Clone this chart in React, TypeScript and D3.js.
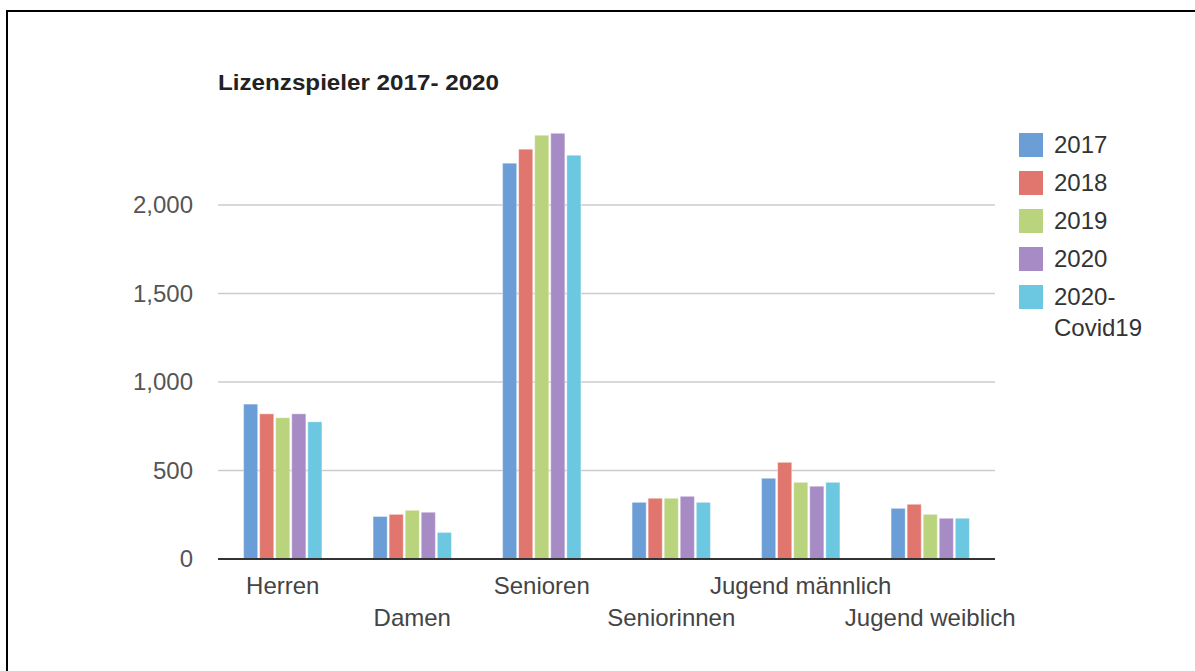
import React from 'react';
import { scaleBand, scaleLinear, format } from 'd3';

const CATEGORIES = ['Herren', 'Damen', 'Senioren', 'Seniorinnen', 'Jugend männlich', 'Jugend weiblich'];
const SERIES = ['2017', '2018', '2019', '2020', '2020-Covid19'];
const LEGEND_LINES = [['2017'], ['2018'], ['2019'], ['2020'], ['2020-', 'Covid19']];
const COLORS = ['#6b9ed6', '#e0766e', '#b9d47c', '#a78bc4', '#6cc7e0'];

// values per series, in category order
const V2017 = [875, 240, 2236, 320, 456, 286];
const V2018 = [820, 252, 2315, 343, 546, 309];
const V2019 = [798, 275, 2394, 343, 433, 252];
const V2020 = [820, 264, 2405, 354, 411, 230];
const VCOVID = [775, 150, 2281, 320, 433, 230];
const VALUES = [V2017, V2018, V2019, V2020, VCOVID];

const Y_TICKS = [0, 500, 1000, 1500, 2000];
const TITLE = 'Lizenzspieler 2017- 2020';

const FONT = '"Liberation Sans", Arial, sans-serif';

export default function App() {
  const width = 1195;
  const height = 671;
  const left = 218;
  const right = 995;
  const zeroY = 559;

  const x0 = scaleBand<string>().domain(CATEGORIES).range([left, right]).paddingInner(0.38).paddingOuter(0.19);
  const x1 = scaleBand<string>().domain(SERIES).range([0, x0.bandwidth()]);
  const y = scaleLinear().domain([0, 2000]).range([zeroY, 205]);
  const fmt = format(',');

  const bars = CATEGORIES.map((cat, i) =>
    SERIES.map((s, j) => {
      const v = VALUES[j][i];
      return (
        <rect
          key={cat + s}
          x={(x0(cat) || 0) + (x1(s) || 0) + 1}
          y={y(v)}
          width={x1.bandwidth() - 2}
          height={zeroY - y(v)}
          fill={COLORS[j]}
          stroke="rgba(255,255,255,0.35)"
          strokeWidth={1}
        />
      );
    })
  );

  return (
    <svg width={width} height={height} style={{ position: 'absolute', left: 0, top: 0, fontFamily: FONT }}>
      <rect x={0} y={0} width={width} height={height} fill="#fff" />
      <rect x={7} y={11} width={width + 20} height={height + 20} fill="none" stroke="#000" strokeWidth={2} />

      <text x={218} y={90} fontSize={22} fontWeight="bold" fill="#222" textLength={281} lengthAdjust="spacingAndGlyphs">
        {TITLE}
      </text>

      {Y_TICKS.filter(t => t > 0).map(t => (
        <line key={t} x1={left} x2={right} y1={y(t)} y2={y(t)} stroke="#cccccc" strokeWidth={1.5} />
      ))}
      {Y_TICKS.map(t => (
        <text key={'l' + t} x={193} y={y(t)} dy="0.35em" textAnchor="end" fontSize={24} fill="#555">{fmt(t)}</text>
      ))}

      {bars}

      <line x1={left} x2={right} y1={zeroY} y2={zeroY} stroke="#333" strokeWidth={2} />

      {CATEGORIES.map((cat, i) => (
        <text
          key={cat}
          x={(x0(cat) || 0) + x0.bandwidth() / 2}
          y={i % 2 === 0 ? 594 : 626}
          textAnchor="middle"
          fontSize={24}
          fill="#444"
        >
          {cat}
        </text>
      ))}

      {LEGEND_LINES.map((lines, i) => (
        <g key={SERIES[i]} transform={`translate(1019, ${133 + i * 38})`}>
          <rect x={0} y={0} width={24} height={24} fill={COLORS[i]} />
          {lines.map((ln, k) => (
            <text key={ln} x={35} y={20 + k * 31} fontSize={24} fill="#333">{ln}</text>
          ))}
        </g>
      ))}
    </svg>
  );
}
